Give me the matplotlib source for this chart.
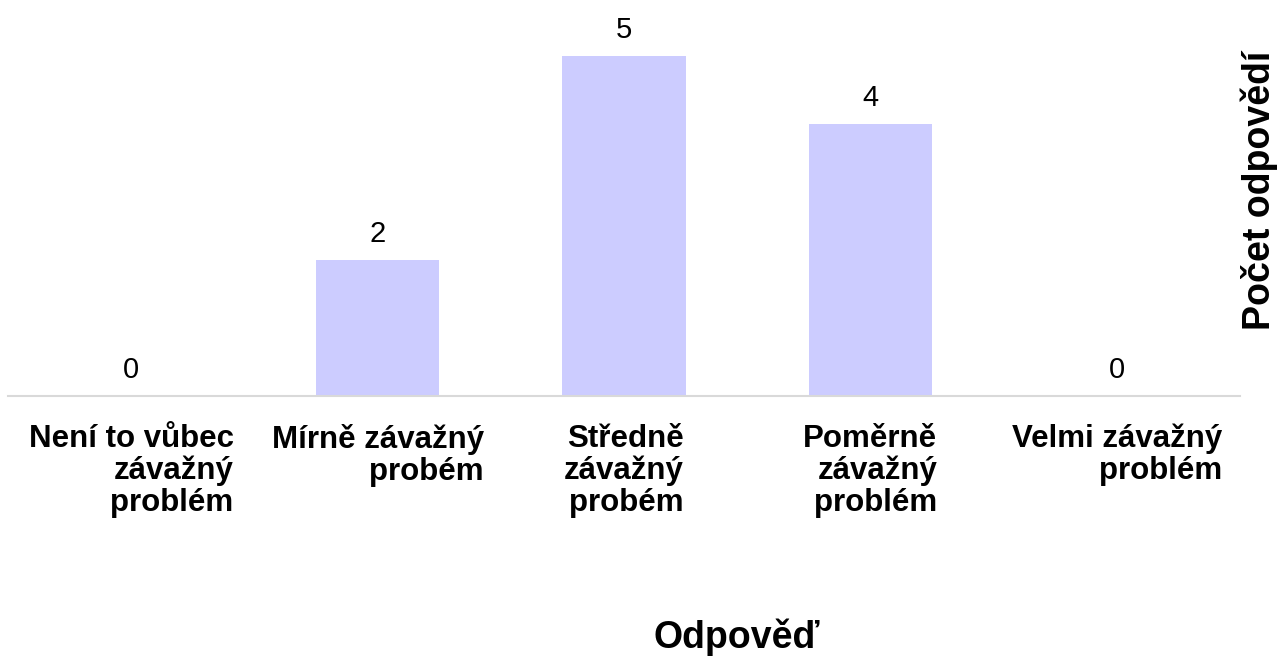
import matplotlib
matplotlib.use('Agg')
import matplotlib.pyplot as plt
import numpy as np

plt.rcParams['font.family'] = ['Liberation Sans', 'DejaVu Sans']

CATEGORIES = ['Není to vůbec\nzávažný\nproblém',
              'Mírně závažný\nprobém',
              'Středně\nzávažný\nprobém',
              'Poměrně\nzávažný\nproblém',
              'Velmi závažný\nproblém']
COUNTS = [0, 2, 5, 4, 0]
BAR_COLOR = '#ccccff'


def main():
    fig = plt.figure(figsize=(12.87, 6.57), dpi=100)
    ax = fig.add_axes([8 / 1287, 261 / 657, 1232 / 1287, 396 / 657])

    x = np.arange(len(CATEGORIES))
    bars = ax.bar(x, COUNTS, width=0.5, color=BAR_COLOR)
    for b, v in zip(bars, COUNTS):
        ax.annotate(str(v), (b.get_x() + b.get_width() / 2, v),
                    xytext=(0, 13), textcoords='offset points',
                    ha='center', va='baseline', fontsize=21)

    ax.set_xlim(-0.5, len(CATEGORIES) - 0.5)
    ax.set_ylim(0, 5.82)
    ax.set_xticks(x)
    ax.set_xticklabels(CATEGORIES, fontsize=22.5, fontweight='bold',
                       multialignment='right', linespacing=1.08)
    ax.tick_params(axis='x', length=0, pad=20)
    ax.set_yticks([])
    for side in ['top', 'right', 'left']:
        ax.spines[side].set_visible(False)
    ax.spines['bottom'].set_color('#d9d9d9')
    ax.spines['bottom'].set_linewidth(1.5)

    fig.text(737 / 1287, 1 - 637 / 657, 'Odpověď', ha='center', va='center',
             fontsize=27, fontweight='bold')
    fig.text(1259 / 1287, 1 - 190 / 657, 'Počet odpovědí', ha='center',
             va='center', rotation=90, fontsize=27, fontweight='bold')

    fig.savefig('out.png', dpi=100)


if __name__ == '__main__':
    main()
